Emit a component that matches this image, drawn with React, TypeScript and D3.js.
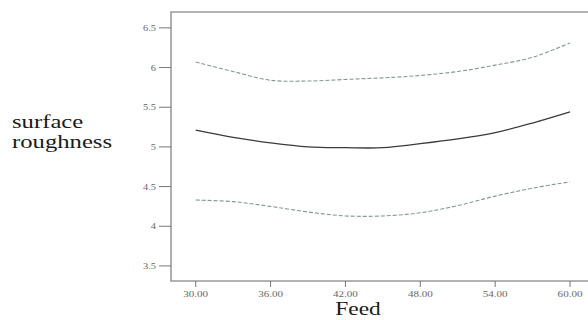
import * as d3 from 'd3';
import React, { useEffect, useRef } from 'react';

// Feed vs surface roughness, fit with confidence bands

const feed = [30, 33, 36, 39, 42, 45, 48, 51, 54, 57, 60];
const fitValues = [5.21, 5.12, 5.05, 5.0, 4.99, 4.99, 5.04, 5.1, 5.18, 5.3, 5.44];
const upperValues = [6.07, 5.95, 5.84, 5.83, 5.85, 5.87, 5.9, 5.95, 6.03, 6.13, 6.31];
const lowerValues = [4.33, 4.31, 4.25, 4.18, 4.13, 4.13, 4.17, 4.26, 4.38, 4.48, 4.56];

const xTicks = [30, 36, 42, 48, 54, 60];
const yTicks = [3.5, 4, 4.5, 5, 5.5, 6, 6.5];

export default () => {
    const ref = useRef<any>();

    function cb(): void {
        const dimensions: any = {
            width: 588,
            height: 320,
            left: 171,
            right: 588,
            top: 12,
            bottom: 281,
        };

        const svg = d3.select<any, any>(ref.current)
            .attr('width', dimensions.width)
            .attr('height', dimensions.height);
        svg.selectAll('*').remove();

        const xScale = d3.scaleLinear().domain([28.02, 61.44]).range([dimensions.left, dimensions.right]);
        const yScale = d3.scaleLinear().domain([3.31, 6.70]).range([dimensions.bottom, dimensions.top]);

        const axisColor = '#9a9a9a';
        const stretch = 'scale(1.3,1)';

        // frame
        svg.append('path')
            .attr('d', `M${dimensions.right},${dimensions.top}H${dimensions.left}V${dimensions.bottom}H${dimensions.right}`)
            .attr('fill', 'none')
            .attr('stroke', axisColor)
            .attr('stroke-width', 1.6);

        // y ticks
        const yg = svg.append('g');
        yTicks.forEach((t) => {
            const y = yScale(t);
            yg.append('line')
                .attr('x1', dimensions.left - 12).attr('x2', dimensions.left)
                .attr('y1', y).attr('y2', y)
                .attr('stroke', '#777').attr('stroke-width', 1);
            yg.append('text')
                .attr('transform', `translate(${dimensions.left - 15},${y + 3}) ${stretch}`)
                .attr('text-anchor', 'end')
                .attr('font-family', 'Liberation Serif')
                .attr('font-size', 8)
                .attr('fill', '#666')
                .text(d3.format('')(t));
        });

        // x ticks
        const xg = svg.append('g');
        xTicks.forEach((t) => {
            const x = xScale(t);
            xg.append('line')
                .attr('x1', x).attr('x2', x)
                .attr('y1', dimensions.bottom).attr('y2', dimensions.bottom + 6)
                .attr('stroke', '#777').attr('stroke-width', 1);
            xg.append('text')
                .attr('transform', `translate(${x},${dimensions.bottom + 16}) ${stretch}`)
                .attr('text-anchor', 'middle')
                .attr('font-family', 'Liberation Serif')
                .attr('font-size', 8.5)
                .attr('fill', '#666')
                .text(d3.format('.2f')(t));
        });

        const line = (vals: number[]) => d3.line<number>()
            .x((_d, i) => xScale(feed[i]))
            .y((d) => yScale(d))
            .curve(d3.curveCatmullRom)(vals);

        svg.append('path')
            .attr('d', line(upperValues))
            .attr('fill', 'none')
            .attr('stroke', '#7f9a94')
            .attr('stroke-width', 1.1)
            .attr('stroke-dasharray', '4,2');

        svg.append('path')
            .attr('d', line(lowerValues))
            .attr('fill', 'none')
            .attr('stroke', '#7f9a94')
            .attr('stroke-width', 1.1)
            .attr('stroke-dasharray', '4,2');

        svg.append('path')
            .attr('d', line(fitValues))
            .attr('fill', 'none')
            .attr('stroke', '#3a3a3a')
            .attr('stroke-width', 1.3);

        // axis titles
        svg.append('text')
            .attr('transform', `translate(12,128) ${stretch}`)
            .attr('font-family', 'Liberation Serif')
            .attr('font-size', 19)
            .attr('fill', '#1a1a1a')
            .text('surface');
        svg.append('text')
            .attr('transform', `translate(12,148) ${stretch}`)
            .attr('font-family', 'Liberation Serif')
            .attr('font-size', 19)
            .attr('fill', '#1a1a1a')
            .text('roughness');
        svg.append('text')
            .attr('transform', `translate(358,315) ${stretch}`)
            .attr('text-anchor', 'middle')
            .attr('font-family', 'Liberation Serif')
            .attr('font-size', 18)
            .attr('fill', '#1a1a1a')
            .text('Feed');
    }

    useEffect(() => {
        cb();
    });

    return (
        <svg ref={ref} style={{ position: 'absolute', left: 0, top: 0, background: '#fff' }} />
    );
};
